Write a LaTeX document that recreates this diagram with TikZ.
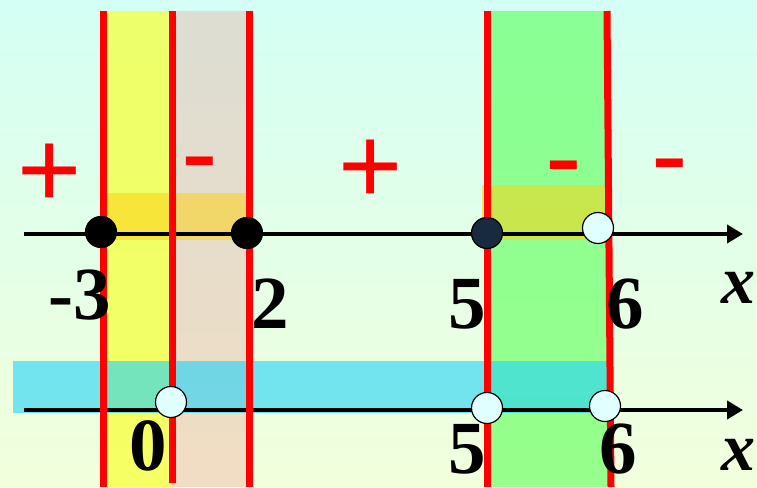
\documentclass[tikz,border=0pt]{standalone}
\usepackage{fontspec}
\setmainfont{Liberation Serif}
\newfontfamily\signfont{Liberation Sans}
\usetikzlibrary{arrows.meta}
\definecolor{bgtop}{RGB}{212,255,244}
\definecolor{bgbot}{RGB}{242,255,220}
\definecolor{bandyellow}{RGB}{249,255,41}
\definecolor{bandtan}{RGB}{240,145,137}
\definecolor{bandgreen}{RGB}{74,255,70}
\definecolor{bandcyan}{RGB}{32,210,248}
\definecolor{bandgold}{RGB}{253,208,17}
\definecolor{dotnavy}{RGB}{23,42,64}
\definecolor{dotopen}{RGB}{224,255,255}

\begin{document}
\begin{tikzpicture}[x=1pt, y=-1pt,
    redline/.style={draw=red, line width=7pt},
    axis/.style={draw=black, line width=4.5pt, -{Triangle[length=16pt,width=18pt]}},
    dot/.style={circle, fill=black, draw=black, line width=1.2pt, minimum size=31pt, inner sep=0pt},
    opendot/.style={dot, fill=dotopen},
    num/.style={font=\fontsize{75}{75}\selectfont\bfseries, anchor=base, inner sep=0pt},
    varx/.style={font=\fontsize{68}{68}\selectfont\bfseries\itshape, anchor=base, inner sep=0pt},
    sign/.style={font=\signfont\fontsize{110}{110}\selectfont, text=red, anchor=base, inner sep=0pt}]
    \useasboundingbox (0,0) rectangle (757,487);

    % Background
    \fill[top color=bgtop, bottom color=bgbot] (0,0) rectangle (757,487);

    % Solution bands
    \fill[bandyellow, opacity=0.67] (103,11) rectangle (172,487);
    \fill[bandtan, opacity=0.3] (172,11) rectangle (249,487);
    \fill[bandgreen, opacity=0.54] (487,11) rectangle (610,487);
    \fill[bandcyan, opacity=0.6] (13,361) rectangle (607,413);
    \fill[bandgold, opacity=0.53] (103,193) rectangle (249,240);
    \fill[bandgold, opacity=0.53] (482,185) rectangle (610,240);

    % Number lines
    \coordinate (topL) at (24,234);
    \coordinate (topR) at (743,234);
    \coordinate (botL) at (24,410);
    \coordinate (botR) at (743,410);
    \draw[axis] (topL) -- (topR);
    \draw[axis] (botL) -- (botR);

    % Boundaries
    \foreach \x/\e in {103/487, 172/483, 249/487, 487/487}
        \draw[redline] (\x,11) -- (\x,\e);
    \draw[redline] (607,11) -- (611,487);

    % Points on the first line
    \node[dot] (m3) at (101,232) {};
    \node[dot] (p2) at (247,233) {};
    \node[dot, fill=dotnavy] (p5) at (487,233) {};
    \node[opendot] (p6) at (598,228) {};

    % Points on the second line
    \node[opendot] (q0) at (171,402) {};
    \node[opendot] (q5) at (487,408) {};
    \node[opendot] (q6) at (605,406) {};

    % Labels
    \node[num] (lm3) at (80,319) {-3};
    \node[num] (l2) at (270,328) {2};
    \node[num] (l5) at (467,328) {5};
    \node[num] (l6) at (625,328) {6};
    \node[varx] (lx) at (738,303) {x};
    \node[num] (k0) at (148,470) {0};
    \node[num] (k5) at (467,473) {5};
    \node[num] (k6) at (618,473) {6};
    \node[varx] (kx) at (738,470) {x};

    % Signs
    \node[sign] (s1) at (50,207.5) {+};
    \node[sign] (s2) at (199.5,190) {-};
    \node[sign] (s3) at (371,203.5) {+};
    \node[sign] (s4) at (563.5,194) {-};
    \node[sign] (s5) at (669.5,192) {-};
\end{tikzpicture}
\end{document}
